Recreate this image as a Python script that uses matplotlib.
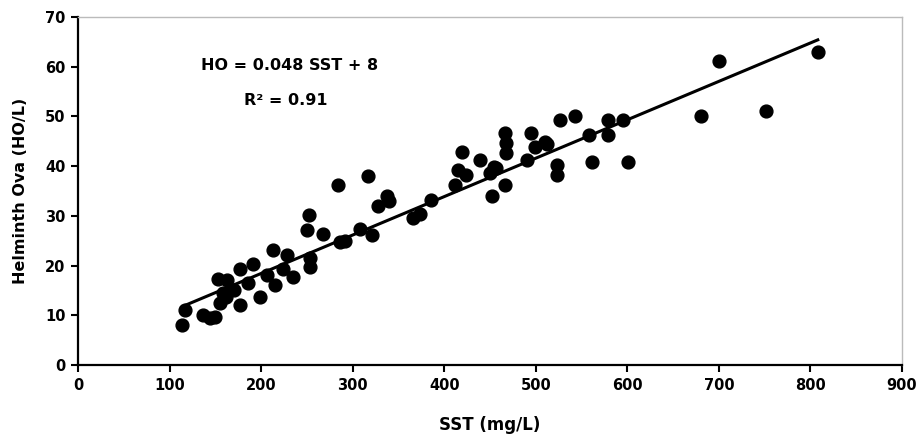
import matplotlib
matplotlib.use('Agg')
import matplotlib.pyplot as plt
plt.rcParams.update({'font.family': 'DejaVu Sans', 'font.weight': 'bold'})

# SST (mg/L) vs helminth ova (HO/L)
sst = [114, 117, 136, 144, 150, 153, 163, 155, 162, 170, 158, 177, 177, 191,
       186, 199, 213, 206, 215, 228, 235, 224, 253, 253, 250, 252, 268, 284,
       286, 292, 308, 317, 321, 328, 337, 340, 366, 373, 386, 412, 415, 419,
       424, 439, 450, 452, 454, 457, 466, 468, 468, 466, 490, 495, 499, 510,
       512, 523, 523, 526, 543, 558, 561, 579, 579, 595, 601, 681, 700, 752,
       808]
ho = [8.0, 11.1, 10.0, 9.4, 9.6, 17.2, 17.1, 12.4, 13.7, 15.1, 14.5, 12.1,
      19.4, 20.4, 16.4, 13.7, 23.1, 18.1, 16.1, 22.1, 17.8, 19.4, 19.8, 21.5,
      27.2, 30.2, 26.4, 36.2, 24.8, 25.0, 27.3, 38.0, 26.2, 32.0, 33.9, 33.0,
      29.6, 30.3, 33.2, 36.2, 39.2, 42.9, 38.2, 41.2, 38.6, 33.9, 39.9, 39.6,
      46.6, 44.6, 42.6, 36.2, 41.2, 46.6, 43.9, 44.9, 44.5, 40.2, 38.2, 49.3,
      50.1, 46.3, 40.9, 49.3, 46.3, 49.3, 40.9, 50.1, 61.2, 51.1, 63.0]

# trend line as drawn
trend_x = [117, 808]
trend_y = [12.0, 65.4]

fig = plt.figure(figsize=(9.19, 4.37), dpi=100)
ax = fig.add_axes([78/919, 1-365/437, 824/919, 348/437])

ax.plot(trend_x, trend_y, color='black', lw=2.2, zorder=2)
ax.scatter(sst, ho, s=85, color='black', zorder=3)

ax.set_xlim(0, 900)
ax.set_ylim(0, 70)
ax.set_xticks(range(0, 901, 100))
ax.set_yticks(range(0, 71, 10))
ax.tick_params(labelsize=10.5, length=5, width=1.5, pad=4)
for lab in ax.get_xticklabels() + ax.get_yticklabels():
    lab.set_fontweight('bold')

for side in ['left', 'bottom']:
    ax.spines[side].set_linewidth(1.6)
for side in ['top', 'right']:
    ax.spines[side].set_color('#bbbbbb')
    ax.spines[side].set_linewidth(1.0)

ax.set_xlabel('SST (mg/L)', fontsize=12, fontweight='bold', labelpad=17)
ax.set_ylabel('Helminth Ova (HO/L)', fontsize=11.5, fontweight='bold', labelpad=12)

ax.text(231, 60.2, 'HO = 0.048 SST + 8', fontsize=11.5, fontweight='bold',
        ha='center', va='center')
ax.text(227, 53.3, 'R² = 0.91', fontsize=11.5, fontweight='bold',
        ha='center', va='center')

fig.savefig('out.png', dpi=100)
